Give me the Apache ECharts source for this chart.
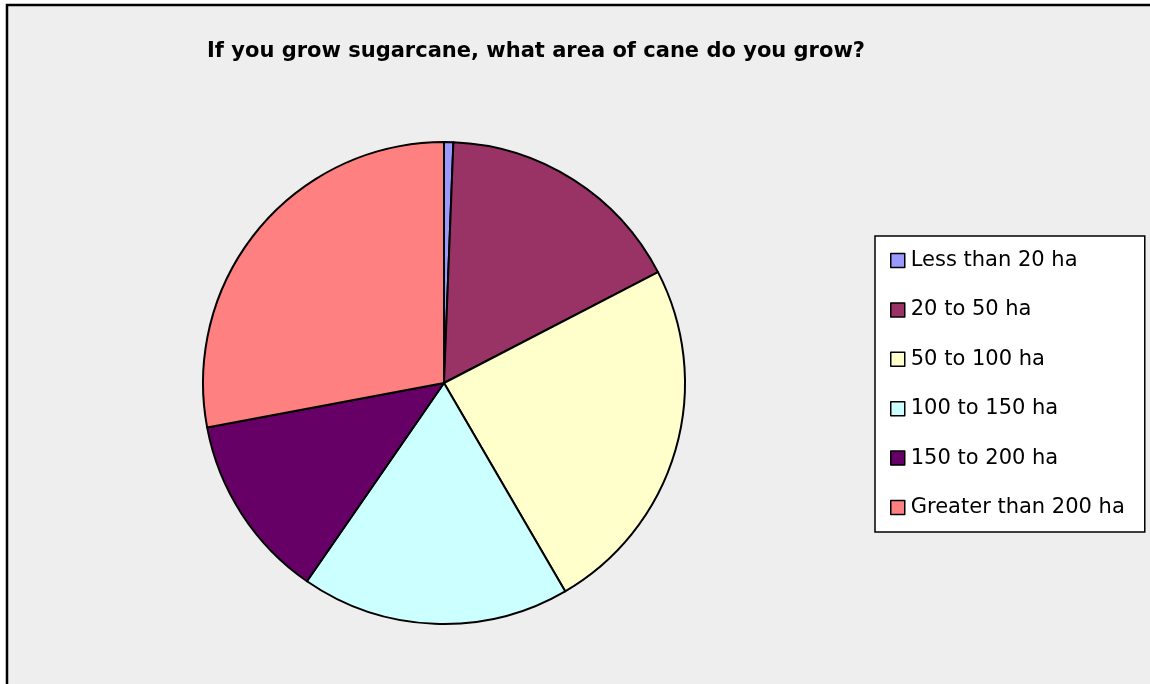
<!DOCTYPE html>
<html>
<head>
<meta charset="utf-8">
<script src="https://cdn.jsdelivr.net/npm/echarts@6/dist/echarts.min.js"></script>
<style>
  html, body { margin: 0; padding: 0; background: #fff; }
  #chart { width: 1150px; height: 684px; }
</style>
</head>
<body>
<div id="chart"></div>
<script>
// answers to the survey question (farm counts per cane area band)
var categories = ['Less than 20 ha', '20 to 50 ha', '50 to 100 ha', '100 to 150 ha', '150 to 200 ha', 'Greater than 200 ha'];
var counts = [1, 27, 39, 29, 20, 45];
var colors = ['#9999ff', '#993366', '#ffffcc', '#ccffff', '#660066', '#ff8080'];

var chart = echarts.init(document.getElementById('chart'), null, { renderer: 'canvas' });

var option = {
  animation: false,
  backgroundColor: '#ffffff',
  color: colors,
  graphic: [{
    type: 'rect',
    z: -10,
    silent: true,
    shape: { x: 7, y: 5, width: 1170, height: 700 },
    style: { fill: '#eeeeee', stroke: '#000000', lineWidth: 2.5 }
  }],
  title: {
    text: 'If you grow sugarcane, what area of cane do you grow?',
    left: 536,
    top: 41,
    padding: 0,
    textAlign: 'center',
    textStyle: {
      fontFamily: 'DejaVu Sans',
      fontWeight: 'bold',
      fontSize: 21,
      color: '#000000'
    }
  },
  legend: {
    orient: 'vertical',
    left: 875,
    top: 236,
    padding: [14, 20, 14, 15],
    backgroundColor: '#ffffff',
    borderColor: '#000000',
    borderWidth: 1.5,
    borderRadius: 0,
    icon: 'rect',
    itemWidth: 14,
    itemHeight: 14,
    itemGap: 28.4,
    selectedMode: false,
    itemStyle: { borderColor: '#000000', borderWidth: 1.5 },
    textStyle: {
      fontFamily: 'DejaVu Sans',
      fontSize: 21,
      lineHeight: 20,
      color: '#000000',
      padding: [0, 0, 0, 1]
    },
    data: categories
  },
  series: [{
    type: 'pie',
    center: [444, 383],
    radius: 241,
    startAngle: 90,
    clockwise: true,
    label: { show: false },
    labelLine: { show: false },
    emphasis: { disabled: true },
    itemStyle: { borderColor: '#000000', borderWidth: 2 },
    data: categories.map(function (name, i) {
      return { name: name, value: counts[i] };
    })
  }]
};

chart.setOption(option);
</script>
</body>
</html>
